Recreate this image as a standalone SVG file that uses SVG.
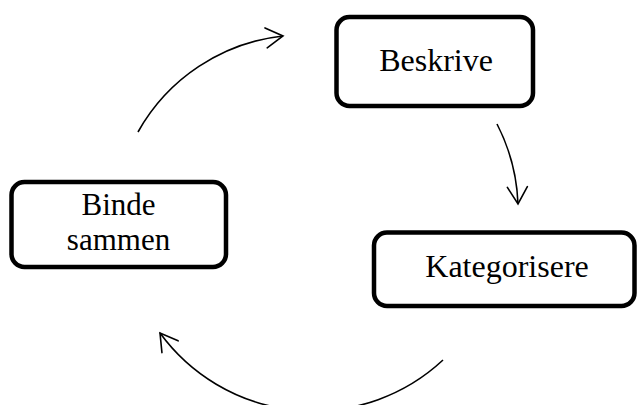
<svg xmlns="http://www.w3.org/2000/svg" width="637" height="405" viewBox="0 0 637 405">
  <style>
    .box { fill: #ffffff; stroke: #000000; stroke-width: 4.5; }
    .lbl { font-family: "Liberation Serif", "Times New Roman", serif; font-size: 32px; fill: #000000; text-anchor: middle; }
    .lbl2 { font-size: 31px; }
    .conn { fill: none; stroke: #000000; stroke-width: 1.6; marker-end: url(#arrow); }
  </style>
  <defs>
    <marker id="arrow" markerUnits="userSpaceOnUse" orient="auto" markerWidth="40" markerHeight="40" viewBox="-20 -20 40 40" refX="0" refY="0" overflow="visible">
      <path d="M-17,-10 L0,0 L-17,10" fill="none" stroke="#000000" stroke-width="1.6" stroke-linecap="round" stroke-linejoin="miter"/>
    </marker>
  </defs>
  <rect width="637" height="405" fill="#ffffff"/>
  <g id="connectors">
    <path class="conn" d="M138,132 A190,190 0 0 1 283,36"/>
    <path class="conn" d="M497,124 A190,190 0 0 1 518,204"/>
    <path class="conn" d="M443,360 A190,190 0 0 1 160,333"/>
  </g>
  <g id="node-beskrive">
    <rect class="box" x="336.5" y="17" width="196.5" height="89" rx="13"/>
    <text class="lbl" x="436" y="71">Beskrive</text>
  </g>
  <g id="node-kategorisere">
    <rect class="box" x="374" y="232.5" width="260.5" height="73.5" rx="13"/>
    <text class="lbl" x="507" y="277">Kategorisere</text>
  </g>
  <g id="node-binde-sammen">
    <rect class="box" x="11.5" y="182" width="214.5" height="85" rx="13"/>
    <text class="lbl lbl2" x="118.5" y="215">Binde</text>
    <text class="lbl lbl2" x="118.5" y="250">sammen</text>
  </g>
</svg>
